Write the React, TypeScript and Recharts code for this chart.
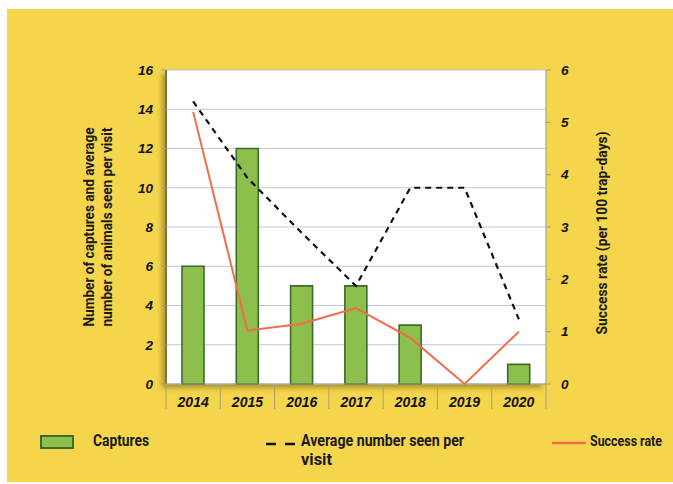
import React from "react";
import { Bar, CartesianGrid, ComposedChart, Line, XAxis, YAxis } from "recharts";

const YEARS = ["2014", "2015", "2016", "2017", "2018", "2019", "2020"];
const CAPTURES = [6, 12, 5, 5, 3, 0, 1];
const AVG_SEEN = [14.4, 10.5, 7.7, 5, 10, 10, 3.3];
const SUCCESS_RATE = [5.2, 1.02, 1.15, 1.45, 0.88, 0, 1.0];
const LEFT_TICKS = [0, 2, 4, 6, 8, 10, 12, 14, 16];
const RIGHT_TICKS = [0, 1, 2, 3, 4, 5, 6];

const W = 673;
const H = 484;
const PLOT = { left: 166, right: 546, top: 70, bottom: 384 };
const PLOT_W = PLOT.right - PLOT.left;
const AXIS_W = 60;

const YELLOW = "#f4d54c";
const GREEN = "#8cbf4c";
const GREEN_DARK = "#3d6b2b";
const RED = "#f26b4a";
const GRID = "#bccadb";
const TICK_FONT = "'Liberation Sans', Arial, sans-serif";
const LABEL_FONT = "Roboto, 'Noto Sans', sans-serif";

const data = YEARS.map((year, i) => ({
  year,
  captures: CAPTURES[i],
  avg: AVG_SEEN[i],
  rate: SUCCESS_RATE[i],
}));

const tickStyle = {
  fill: "#111",
  fontSize: 13.5,
  fontWeight: 700,
  fontStyle: "italic",
  fontFamily: TICK_FONT,
};

function YearTick(props: any) {
  const { x, y, payload, index } = props;
  const half = PLOT_W / YEARS.length / 2;
  const last = index === YEARS.length - 1;
  return (
    <g>
      <line x1={x - half} x2={x - half} y1={y} y2={y + 25} stroke="#a8a278" strokeWidth={1} />
      {last && <line x1={x + half} x2={x + half} y1={y} y2={y + 25} stroke="#a8a278" strokeWidth={1} />}
      <text x={x} y={y + 23} textAnchor="middle" {...tickStyle} fontSize={14}>
        {payload.value}
      </text>
    </g>
  );
}

const titleProps = {
  fill: "#1a1a1a",
  fontSize: 15.5,
  fontWeight: 700,
  fontFamily: LABEL_FONT,
  lengthAdjust: "spacingAndGlyphs" as const,
};

function LeftTitle(props: any) {
  const vb = props.viewBox || { x: PLOT.left - AXIS_W, y: PLOT.top, height: PLOT.bottom - PLOT.top };
  const cx = vb.x - 8;
  const cy = vb.y + vb.height / 2;
  return (
    <g transform={`translate(${cx},${cy}) rotate(-90)`}>
      <text x={0} y={-4} textAnchor="middle" textLength={199} {...titleProps}>
        Number of captures and average
      </text>
      <text x={0} y={14} textAnchor="middle" textLength={199} {...titleProps}>
        number of animals seen per visit
      </text>
    </g>
  );
}

function RightTitle(props: any) {
  const vb = props.viewBox || { x: PLOT.right, y: PLOT.top, height: PLOT.bottom - PLOT.top };
  const cx = vb.x + 61;
  const cy = vb.y + vb.height / 2 + 6;
  return (
    <g transform={`translate(${cx},${cy}) rotate(-90)`}>
      <text x={0} y={0} textAnchor="middle" textLength={203} {...titleProps}>
        Success rate (per 100 trap-days)
      </text>
    </g>
  );
}

export default function App() {
  return (
    <div style={{ position: "absolute", left: 0, top: 0, width: W, height: H, background: "#fff" }}>
      <div style={{ position: "absolute", left: 7, top: 9, width: W - 7, height: 473, background: YELLOW }} />
      <div
        style={{
          position: "absolute",
          left: PLOT.left,
          top: PLOT.top,
          width: PLOT_W,
          height: PLOT.bottom - PLOT.top,
          background: "#fff",
          boxShadow: "-4px 4px 5px rgba(90,70,0,0.45)",
        }}
      />
      <div style={{ position: "absolute", left: 0, top: 0 }}>
        <ComposedChart
          width={W}
          height={H}
          data={data}
          margin={{
            top: PLOT.top,
            right: W - PLOT.right - AXIS_W,
            bottom: H - PLOT.bottom - 30,
            left: PLOT.left - AXIS_W,
          }}
        >
          <CartesianGrid yAxisId="left" vertical={false} stroke={GRID} strokeWidth={1.2} />
          <XAxis
            dataKey="year"
            height={30}
            tickSize={0}
            tickMargin={0}
            tickLine={false}
            axisLine={{ stroke: "#9a9a9a" }}
            tick={<YearTick />}
            interval={0}
          />
          <YAxis
            yAxisId="left"
            width={AXIS_W}
            domain={[0, 16]}
            ticks={LEFT_TICKS}
            interval={0}
            tickSize={5}
            tickMargin={8}
            tickLine={{ stroke: "#9a9a9a" }}
            axisLine={{ stroke: "#7d7550", strokeWidth: 2 }}
            tick={tickStyle}
            label={<LeftTitle />}
          />
          <YAxis
            yAxisId="right"
            orientation="right"
            width={AXIS_W}
            domain={[0, 6]}
            ticks={RIGHT_TICKS}
            interval={0}
            tickSize={5}
            tickMargin={10}
            tickLine={{ stroke: "#9a9a9a" }}
            axisLine={{ stroke: "#9a9a9a" }}
            tick={{ ...tickStyle, textAnchor: "start" }}
            label={<RightTitle />}
          />
          <Bar
            yAxisId="left"
            dataKey="captures"
            barSize={22}
            fill={GREEN}
            stroke={GREEN_DARK}
            strokeWidth={1.6}
            isAnimationActive={false}
          />
          <Line
            yAxisId="left"
            dataKey="avg"
            type="linear"
            stroke="#111"
            strokeWidth={2.2}
            strokeDasharray="6 5"
            dot={false}
            activeDot={false}
            isAnimationActive={false}
          />
          <Line
            yAxisId="right"
            dataKey="rate"
            type="linear"
            stroke={RED}
            strokeWidth={2}
            dot={false}
            activeDot={false}
            isAnimationActive={false}
          />
        </ComposedChart>
      </div>

      {/* legend */}
      <svg style={{ position: "absolute", left: 0, top: 0 }} width={W} height={H}>
        <rect x={41} y={436} width={32} height={12} fill={GREEN} stroke={GREEN_DARK} strokeWidth={2} />
        <text x={93} y={446} textLength={56} {...titleProps} fontSize={16}>
          Captures
        </text>
        <line x1={266} x2={296} y1={444} y2={444} stroke="#111" strokeWidth={2.5} strokeDasharray="10 9" />
        <text x={301} y={446} textLength={163} {...titleProps} fontSize={16}>
          Average number seen per
        </text>
        <text x={301} y={465} textLength={31} {...titleProps} fontSize={16}>
          visit
        </text>
        <line x1={552} x2={586} y1={443} y2={443} stroke={RED} strokeWidth={2.5} />
        <text x={590} y={446} textLength={72} {...titleProps} fontSize={14}>
          Success rate
        </text>
      </svg>
    </div>
  );
}
